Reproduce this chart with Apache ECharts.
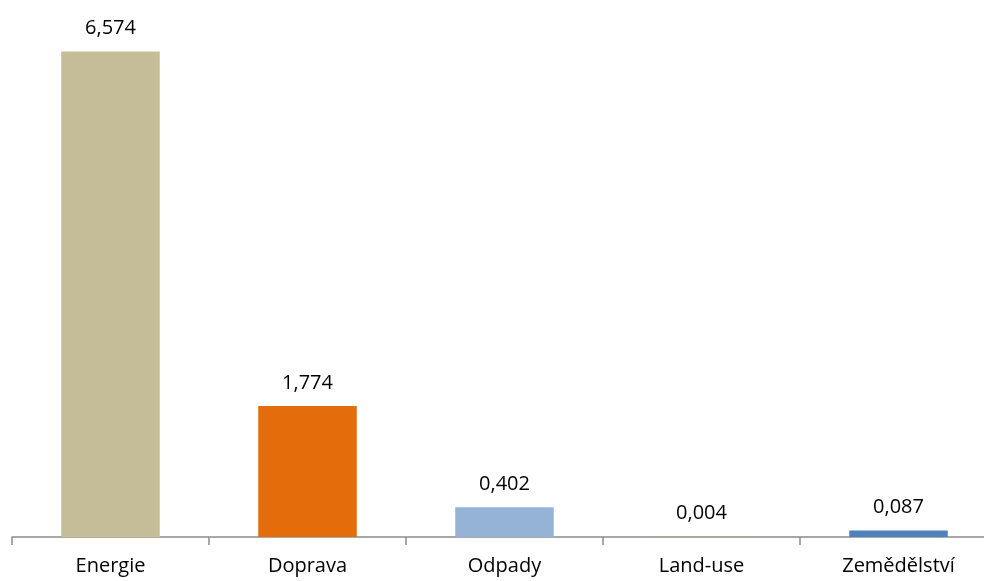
<!DOCTYPE html>
<html>
<head>
<meta charset="utf-8">
<script src="https://cdn.jsdelivr.net/npm/echarts@6/dist/echarts.min.js"></script>
<style>html,body{margin:0;padding:0;background:#fff;overflow:hidden}#c{width:1000px;height:581px}</style>
</head>
<body>
<div id="c"></div>
<script>
const categories = ['Energie', 'Doprava', 'Odpady', 'Land-use', 'Zemědělství'];
const values = [6.574, 1.774, 0.402, 0.004, 0.087];
const colors = ['#C4BD97', '#E46C0A', '#95B3D7', '#9BBB59', '#4F81BD'];

const chart = echarts.init(document.getElementById('c'));
chart.setOption({
  animation: false,
  grid: { left: 12, right: 3, top: 20, height: 517, containLabel: false },
  xAxis: {
    type: 'category',
    data: categories,
    axisLine: { lineStyle: { color: '#8C8C8C', width: 1.5 } },
    axisTick: { show: true, alignWithLabel: false, length: 8, lineStyle: { color: '#8C8C8C', width: 1.5 } },
    axisLabel: { color: '#000', fontSize: 20, fontFamily: 'Open Sans', margin: 19 }
  },
  yAxis: { type: 'value', min: 0, max: 7, show: false, splitLine: { show: false } },
  series: [{
    type: 'bar',
    barWidth: '50%',
    data: values.map((v, i) => ({ value: v, itemStyle: { color: colors[i] } })),
    label: {
      show: true,
      position: 'top',
      distance: 13,
      color: '#000',
      fontSize: 20,
      fontFamily: 'Open Sans',
      formatter: p => p.value.toFixed(3).replace('.', ',')
    }
  }]
});
</script>
</body>
</html>
